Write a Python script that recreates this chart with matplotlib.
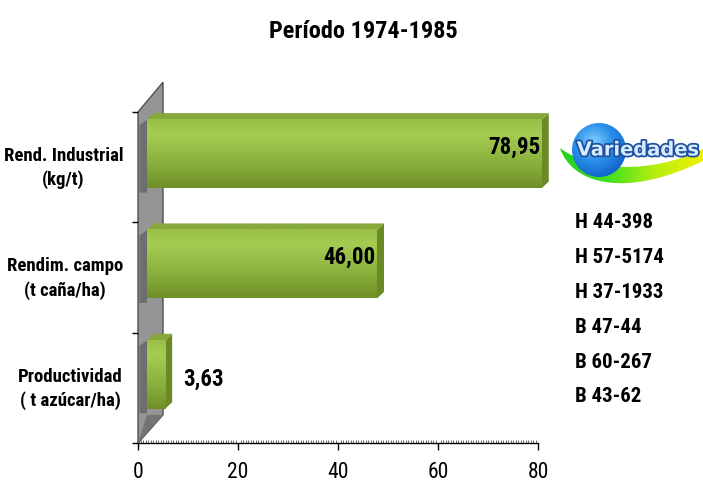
import numpy as np
import matplotlib
matplotlib.use("Agg")
from matplotlib import pyplot as plt
from matplotlib.patches import Polygon, Circle, PathPatch
from matplotlib.path import Path
from matplotlib.colors import LinearSegmentedColormap
import matplotlib.patheffects as pe

# data
categorias = ["Productividad\n( t azúcar/ha)", "Rendim. campo\n(t caña/ha)", "Rend. Industrial\n(kg/t)"]
valores = [3.63, 46.00, 78.95]
etiquetas = ["3,63", "46,00", "78,95"]
variedades = ["H 44-398", "H 57-5174", "H 37-1933", "B 47-44", "B 60-267", "B 43-62"]
xticks = [0, 20, 40, 60, 80]
titulo = "Período 1974-1985"

plt.rcParams["font.family"] = ["Roboto Condensed", "Liberation Sans", "DejaVu Sans"]

W, H = 703, 485
fig = plt.figure(figsize=(W / 100, H / 100), dpi=100)

# main axes in pixel layout: x 0..80 -> 138..538, y 0..3 -> 444..113
ax = fig.add_axes([138 / W, 41 / H, 400 / W, 331 / H])
ax.set_facecolor("none")

# 3D look parameters (data units)
off_x = 1.8      # bar front shift from wall
shift_y = 0.12   # bar shift upward (depth)
bar_h = 0.62
dx, dy = 1.4, 0.06

# gray back wall
wall = Polygon([(0, 0), (0, 3), (5, 3.27), (5, 0.255)], closed=True,
               facecolor="#959595", edgecolor="#505050", lw=1.0, clip_on=False, zorder=1)
ax.add_patch(wall)
floor_tri = Polygon([(0, 0), (5, 0.255), (1.8, 0.255)], closed=True,
                    facecolor="#747474", edgecolor="none", clip_on=False, zorder=1.1)
ax.add_patch(floor_tri)

green = LinearSegmentedColormap.from_list(
    "g", [(0, "#6f8f28"), (0.35, "#89b03c"), (0.8, "#a5cc52"), (1, "#98bf46")])
grad = np.linspace(0, 1, 64).reshape(-1, 1)

for i, v in enumerate(valores):
    yc = i + 0.5 + shift_y
    y0, y1 = yc - bar_h / 2, yc + bar_h / 2
    x0, x1 = off_x, off_x + v
    # bar shadow on the wall
    sh = Polygon([(0.3, y0 - 0.04), (x0, y0 - 0.04), (x0, y1), (0.3, y1 - 0.05)],
                 facecolor="#6e6e6e", edgecolor="none", zorder=1.5, clip_on=False)
    ax.add_patch(sh)
    # side face
    side = Polygon([(x1, y0), (x1 + dx, y0 + dy), (x1 + dx, y1 + dy), (x1, y1)],
                   facecolor="#6b8a26", edgecolor="none", zorder=2, clip_on=False)
    ax.add_patch(side)
    # top face
    top = Polygon([(x0, y1), (x0 + dx, y1 + dy), (x1 + dx, y1 + dy), (x1, y1)],
                  facecolor="#86a83a", edgecolor="none", zorder=2, clip_on=False)
    ax.add_patch(top)
    # front face with gradient
    ax.imshow(grad, cmap=green, extent=(x0, x1, y0, y1), origin="lower",
              aspect="auto", zorder=3, interpolation="bilinear", clip_on=False)

# value labels
for i, (v, t) in enumerate(zip(valores, etiquetas)):
    yc = i + 0.5 + shift_y
    if v > 10:
        ax.text(off_x + v - 0.3, yc + 0.07, t, ha="right", va="center",
                fontsize=16.5, fontweight="bold", zorder=5)
    else:
        ax.text(off_x + v + 3.6, yc - 0.03, t, ha="left", va="center",
                fontsize=16.5, fontweight="bold", zorder=5)

# category labels
for i, c in enumerate(categorias):
    ax.text(-0.0375, i + 0.5, c, transform=ax.get_yaxis_transform(),
            ha="right", va="center", multialignment="center",
            fontsize=13.5, fontweight="bold", linespacing=1.4)

ax.set_xlim(0, 80)
ax.set_ylim(0, 3)
ax.set_xticks(xticks)
ax.set_xticks(np.arange(0, 80.5, 0.5), minor=True)
ax.set_xticklabels([str(x) for x in xticks], fontsize=15.5)
ax.set_yticks([0, 1, 2, 3])
ax.set_yticklabels([])
ax.tick_params(axis="x", which="major", direction="out", length=5, width=1, pad=8)
ax.tick_params(axis="x", which="minor", direction="in", length=2, width=0.6, color="#555555")
ax.tick_params(axis="y", which="major", direction="out", length=4, width=1)
for s in ["top", "right", "left"]:
    ax.spines[s].set_visible(False)
ax.spines["bottom"].set_linewidth(1.0)

fig.text(363 / W, 1 - 32 / H, titulo, ha="center", va="center",
         fontsize=17.5, fontweight="bold")

# decoration layer in pixel coordinates
deco = fig.add_axes([0, 0, 1, 1], zorder=-1)
deco.set_xlim(0, W)
deco.set_ylim(H, 0)
deco.axis("off")

# logo swoosh
verts = [(560, 149), (572, 185), (625, 200), (703, 162),
         (703, 150), (650, 176), (590, 172), (560, 149)]
codes = [Path.MOVETO, Path.CURVE4, Path.CURVE4, Path.CURVE4,
         Path.LINETO, Path.CURVE4, Path.CURVE4, Path.CURVE4]
sw = PathPatch(Path(verts, codes), facecolor="none", edgecolor="none")
deco.add_patch(sw)
gy = LinearSegmentedColormap.from_list("gy", ["#1ed21e", "#3fe020", "#b8ee10", "#f0f000"])
im = deco.imshow(np.linspace(0, 1, 100).reshape(1, -1), cmap=gy,
                 extent=(560, 703, 205, 145), aspect="auto", zorder=2)
im.set_clip_path(sw)

# logo sphere
cx, cy, r = 599, 151, 27
circ = Circle((cx, cy), r, facecolor="none", edgecolor="none")
deco.add_patch(circ)
yy, xx = np.mgrid[-1:1:100j, -1:1:100j]
d = np.sqrt((xx + 0.2) ** 2 + (yy + 0.3) ** 2)
blue = LinearSegmentedColormap.from_list("b", ["#7fd0ff", "#2a90ea", "#1060c8"])
im2 = deco.imshow(d, cmap=blue, extent=(cx - r, cx + r, cy + r, cy - r),
                  aspect="auto", zorder=3, vmin=0, vmax=1.4)
im2.set_clip_path(circ)

deco.text(638, 151, "Variedades", ha="center", va="center", fontsize=14,
          fontweight="bold", family="DejaVu Sans", color="#d8ecff", zorder=4,
          path_effects=[pe.Stroke(linewidth=2.5, foreground="#1f4fa0"), pe.Normal()])

# list of varieties
for k, nombre in enumerate(variedades):
    deco.text(575, 223 + k * 34.8, nombre, ha="left", va="center",
              fontsize=15, fontweight="bold", zorder=4)

deco.set_xlim(0, W)
deco.set_ylim(H, 0)

fig.savefig("out.png", dpi=100)
